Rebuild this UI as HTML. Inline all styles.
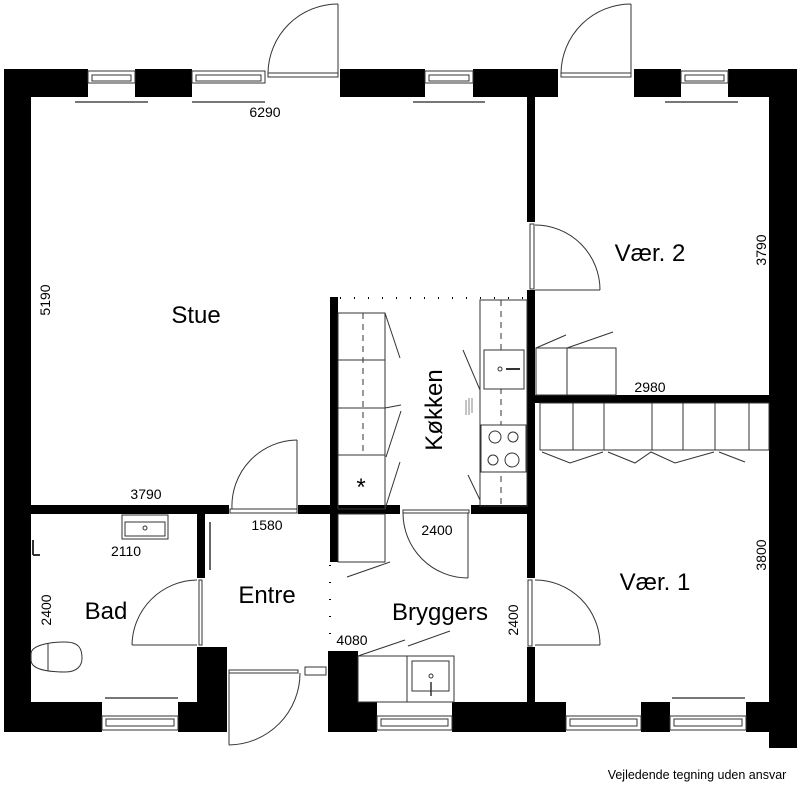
<!DOCTYPE html>
<html><head><meta charset="utf-8"><style>
html,body{margin:0;padding:0;background:#fff;width:800px;height:792px;overflow:hidden}
svg{display:block}
text{font-family:"Liberation Sans",Arial,sans-serif;fill:#000}
</style></head><body>
<svg width="800" height="792" viewBox="0 0 800 792" xmlns="http://www.w3.org/2000/svg">
<g fill="#000">
<rect x="4" y="69" width="84" height="28"/>
<rect x="135" y="69" width="57" height="28"/>
<rect x="340" y="69" width="85" height="28"/>
<rect x="473" y="69" width="85" height="28"/>
<rect x="634" y="69" width="47" height="28"/>
<rect x="728" y="69" width="69" height="28"/>
<rect x="4" y="69" width="27" height="663"/>
<rect x="769" y="69" width="28" height="679"/>
<rect x="4" y="702" width="98" height="30"/>
<rect x="178" y="702" width="49" height="30"/>
<rect x="197" y="647" width="30" height="85"/>
<rect x="328" y="651" width="30" height="81"/>
<rect x="328" y="702" width="49" height="30"/>
<rect x="452" y="702" width="114" height="30"/>
<rect x="641" y="702" width="29" height="30"/>
<rect x="746" y="702" width="23" height="30"/>
<rect x="527" y="97" width="8" height="125"/>
<rect x="527" y="290" width="8" height="288"/>
<rect x="527" y="647" width="8" height="55"/>
<rect x="535" y="395" width="234" height="8"/>
<rect x="31" y="505" width="198" height="9"/>
<rect x="298" y="505" width="102" height="9"/>
<rect x="471" y="505" width="56" height="9"/>
<rect x="330" y="297" width="8" height="265"/>
<rect x="197" y="514" width="8" height="64"/>
</g>
<g fill="none" stroke="#333" stroke-width="1">
<rect x="88" y="71" width="47" height="12"/><rect x="92" y="75" width="39" height="6"/>
<rect x="192" y="71" width="73" height="12"/><rect x="196" y="75" width="65" height="6"/>
<rect x="425" y="71" width="48" height="12"/><rect x="429" y="75" width="40" height="6"/>
<rect x="681" y="71" width="47" height="12"/><rect x="685" y="75" width="39" height="6"/>
<line x1="75" y1="102" x2="148" y2="102" stroke-width="2" stroke="#777"/>
<line x1="192" y1="102" x2="265" y2="102" stroke-width="2" stroke="#777"/>
<line x1="413" y1="102" x2="485" y2="102" stroke-width="2" stroke="#777"/>
<line x1="665" y1="102" x2="738" y2="102" stroke-width="2" stroke="#777"/>
<rect x="268" y="73" width="70" height="4"/>
<line x1="338" y1="77" x2="338" y2="4"/><path d="M268 73 A70 70 0 0 1 338 4"/>
<rect x="561" y="73" width="70" height="4"/>
<line x1="631" y1="77" x2="631" y2="4"/><path d="M561 73 A70 70 0 0 1 631 4"/>
<rect x="530" y="224" width="4" height="65"/>
<line x1="535" y1="290" x2="600" y2="290"/><path d="M535 225 A65 65 0 0 1 600 290"/>
<rect x="528" y="580" width="4" height="66"/>
<line x1="535" y1="645" x2="600" y2="645"/><path d="M535 580 A65 65 0 0 1 600 645"/>
<rect x="536" y="348" width="31" height="47"/><rect x="567" y="348" width="49" height="47"/>
<line x1="536" y1="348" x2="566" y2="335"/><line x1="567" y1="348" x2="613" y2="332"/>
<rect x="540" y="403" width="229" height="47"/>
<line x1="573" y1="403" x2="573" y2="450"/><line x1="604" y1="403" x2="604" y2="450"/>
<line x1="652" y1="403" x2="652" y2="450"/><line x1="683" y1="403" x2="683" y2="450"/>
<line x1="715" y1="403" x2="715" y2="450"/><line x1="749" y1="403" x2="749" y2="450"/>
<path d="M542 452 L570 463 L603 452 M608 452 L635 463 L651 452 L675 463 L714 452 M719 452 L745 462"/>
<rect x="338" y="313" width="47" height="196"/>
<line x1="338" y1="360" x2="385" y2="360"/><line x1="338" y1="408" x2="385" y2="408"/>
<line x1="338" y1="455" x2="385" y2="455"/>
<line x1="363" y1="313" x2="363" y2="455" stroke-dasharray="6,5"/>
<path d="M385 313 L400 358 M385 408 L401 405 M401 411 L386 457 M385 509 L400 462"/>
<rect x="480" y="300" width="47" height="206"/>
<line x1="501" y1="300" x2="501" y2="506" stroke-dasharray="6,5"/>
<rect x="484" y="350" width="40" height="39" fill="#fff"/>
<circle cx="500" cy="369" r="2"/><line x1="506" y1="369" x2="520" y2="369" stroke-width="2"/>
<rect x="481" y="425" width="45" height="47" fill="#fff"/>
<circle cx="495" cy="437" r="6"/><circle cx="513" cy="437" r="5"/>
<circle cx="493" cy="460" r="5"/><circle cx="512" cy="460" r="7"/>
<path d="M463 350 L480 390 M468 475 L480 500"/>
<path d="M466 400 V415 M469 398 V415 M472 398 V413" stroke="#888"/>
<line x1="340" y1="298" x2="527" y2="298" stroke="#000" stroke-width="2" stroke-dasharray="1,13"/>
<rect x="403" y="510" width="66" height="3"/>
<line x1="468" y1="513" x2="468" y2="578"/><path d="M403 513 A65 65 0 0 0 468 578"/>
<rect x="230" y="509" width="67" height="4"/>
<line x1="297" y1="509" x2="297" y2="440"/><path d="M232 509 A66 66 0 0 1 297 440"/>
<rect x="199" y="580" width="3" height="65"/>
<line x1="132" y1="645" x2="197" y2="645"/><path d="M132 645 A66 66 0 0 1 197 580"/>
<line x1="210" y1="522" x2="210" y2="570" stroke-width="2" stroke="#666"/>
<rect x="338" y="514" width="47" height="48"/>
<path d="M347 577 L390 562 M358 656 L405 640 M408 646 L450 631"/>
<rect x="358" y="656" width="96" height="46"/>
<rect x="407" y="656" width="47" height="46"/>
<rect x="412" y="661" width="37" height="30"/>
<circle cx="431" cy="676" r="2"/><line x1="431" y1="682" x2="431" y2="696" stroke-width="1.5"/>
<line x1="330" y1="565" x2="330" y2="640" stroke="#000" stroke-width="2" stroke-dasharray="1,16"/>
<rect x="229" y="670" width="69" height="3"/>
<rect x="305" y="667" width="21" height="8"/>
<line x1="229" y1="673" x2="229" y2="745"/><path d="M229 745 A72 72 0 0 0 300 673"/>
<rect x="122" y="515" width="46" height="24"/><rect x="125" y="522" width="40" height="14"/>
<circle cx="145" cy="528" r="2"/>
<path d="M31 654 C31 645 50 642 65 642 C80 642 82 650 82 658 C82 665 78 672 65 672 C50 672 31 670 31 660 Z"/>
<line x1="48" y1="643" x2="48" y2="671"/>
<path d="M33 540 V555 M33 555 H40" stroke-width="2"/>
<rect x="102" y="716" width="76" height="14"/><rect x="106" y="719" width="68" height="7"/>
<rect x="377" y="716" width="75" height="14"/><rect x="381" y="719" width="67" height="7"/>
<rect x="566" y="716" width="75" height="14"/><rect x="570" y="719" width="67" height="7"/>
<rect x="670" y="716" width="76" height="14"/><rect x="674" y="719" width="68" height="7"/>
<line x1="105" y1="698" x2="178" y2="698" stroke-width="2" stroke="#777"/>
<line x1="672" y1="698" x2="745" y2="698" stroke-width="2" stroke="#777"/>
</g>
<g font-size="24">
<text x="196" y="323" text-anchor="middle">Stue</text>
<text x="650" y="261" text-anchor="middle">Vær. 2</text>
<text x="655" y="590" text-anchor="middle">Vær. 1</text>
<text x="106" y="619" text-anchor="middle">Bad</text>
<text x="267" y="603" text-anchor="middle">Entre</text>
<text x="440" y="620" text-anchor="middle">Bryggers</text>
<text transform="translate(442,410) rotate(-90)" text-anchor="middle">Køkken</text>
</g>
<g font-size="14">
<text x="265" y="117" text-anchor="middle">6290</text>
<text transform="translate(50,300) rotate(-90)" text-anchor="middle">5190</text>
<text x="146" y="499" text-anchor="middle">3790</text>
<text transform="translate(766,250) rotate(-90)" text-anchor="middle">3790</text>
<text x="650" y="392" text-anchor="middle">2980</text>
<text transform="translate(766,555) rotate(-90)" text-anchor="middle">3800</text>
<text x="126" y="556" text-anchor="middle">2110</text>
<text x="267" y="530" text-anchor="middle">1580</text>
<text x="437" y="535" text-anchor="middle">2400</text>
<text transform="translate(51,610) rotate(-90)" text-anchor="middle">2400</text>
<text transform="translate(518,620) rotate(-90)" text-anchor="middle">2400</text>
<text x="352" y="645" text-anchor="middle">4080</text>
<text x="361" y="495" text-anchor="middle" font-size="24">*</text>
</g>
<text x="697" y="779" text-anchor="middle" font-size="12.5">Vejledende tegning uden ansvar</text>
</svg>
</body></html>
